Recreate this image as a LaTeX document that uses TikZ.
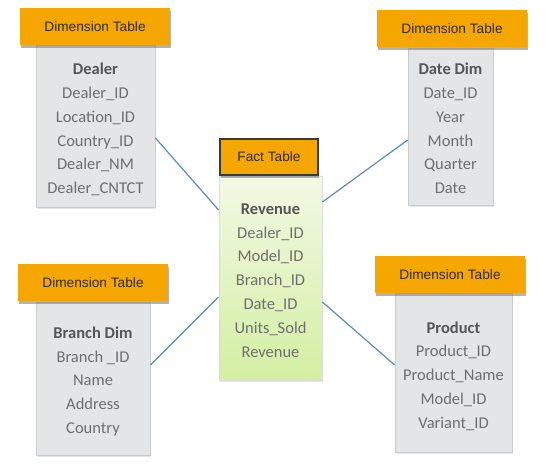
\documentclass[tikz,border=0pt]{standalone}
\usepackage{fontspec}
\setmainfont{Carlito}
\newfontfamily\hdrfont{Liberation Sans}
\usepackage{tikz}
\usetikzlibrary{shadows}
\definecolor{hdrorange}{HTML}{F5A700}
\definecolor{hdrtext}{HTML}{2E2A1E}
\definecolor{boxgray}{HTML}{E4E5E6}
\definecolor{boxedge}{HTML}{C9CBCD}
\definecolor{fieldgray}{HTML}{6E6E6E}
\definecolor{titlegray}{HTML}{555555}
\definecolor{facttop}{HTML}{F2F9E4}
\definecolor{factbot}{HTML}{D3EFA2}
\definecolor{factedge}{HTML}{363B40}
\definecolor{linkblue}{HTML}{5A8DB5}
\tikzset{hdr/.style={rectangle,fill=hdrorange,inner sep=0pt,minimum width=150pt,minimum height=37pt,
    font=\hdrfont\fontsize{13.7}{15}\selectfont,text=hdrtext,
    drop shadow={shadow xshift=1pt,shadow yshift=-3pt,opacity=0.6}}}
\tikzset{facthdr/.style={hdr,draw=factedge,line width=2.8pt,minimum width=98pt,minimum height=36pt}}
\tikzset{tbl/.style={rectangle,fill=boxgray,draw=boxedge,line width=0.8pt,inner sep=0pt,
    drop shadow={shadow xshift=1pt,shadow yshift=-2pt,opacity=0.2}}}
\tikzset{facttbl/.style={tbl,top color=facttop,bottom color=factbot,draw=boxedge!70}}
\tikzset{fields/.style={align=center,inner sep=0pt,font=\fontsize{16.5}{23.8}\selectfont,text=fieldgray}}
\tikzset{link/.style={draw=linkblue,line width=1.2pt}}
\newcommand{\tbltitle}[1]{{\bfseries\color{titlegray}#1}}

\begin{document}
\begin{tikzpicture}[x=1pt,y=-1pt]
    \useasboundingbox (0,0) rectangle (549,470);

    \node[tbl,minimum width=119pt,minimum height=162pt] (dealer) at (95.5,126) {};
    \node[tbl,minimum width=85pt,minimum height=157pt] (date) at (450.5,126.5) {};
    \node[facttbl,minimum width=103pt,minimum height=204pt] (fact) at (270.5,278) {};
    \node[tbl,minimum width=114pt,minimum height=153pt] (branch) at (93,378.5) {};
    \node[tbl,minimum width=117pt,minimum height=159pt] (product) at (453.5,372.5) {};

    \node[fields] (dealertxt) at ([yshift=-3.5pt]dealer.center)
        {\tbltitle{Dealer}\\Dealer\_ID\\Location\_ID\\Country\_ID\\Dealer\_NM\\Dealer\_CNTCT};
    \node[fields] (datetxt) at ([yshift=-2pt]date.center)
        {\tbltitle{Date Dim}\\Date\_ID\\Year\\Month\\Quarter\\Date};
    \node[fields] (facttxt) at ([yshift=-2.5pt]fact.center)
        {\tbltitle{Revenue}\\Dealer\_ID\\Model\_ID\\Branch\_ID\\Date\_ID\\Units\_Sold\\Revenue};
    \node[fields] (branchtxt) at ([yshift=-3pt]branch.center)
        {\tbltitle{Branch Dim}\\Branch \_ID\\Name\\Address\\Country};
    \node[fields] (producttxt) at ([yshift=-3.5pt]product.center)
        {\tbltitle{Product}\\Product\_ID\\Product\_Name\\Model\_ID\\Variant\_ID};

    \node[hdr] (dealerhdr) at (95,26.5) {Dimension Table};
    \node[hdr] (datehdr) at (452,29) {Dimension Table};
    \node[facthdr] (facthdr) at (269,157) {Fact Table};
    \node[hdr] (branchhdr) at (93,283) {Dimension Table};
    \node[hdr] (producthdr) at (450,274.5) {Dimension Table};

    \draw [link] ([yshift=-12pt]dealer.east) to ([yshift=68pt]fact.west);
    \draw [link] ([yshift=-13.5pt]date.west) to ([yshift=76pt]fact.east);
    \draw [link] ([yshift=13.5pt]branch.east) to ([yshift=-19pt]fact.west);
    \draw [link] ([yshift=7.5pt]product.west) to ([yshift=-24pt]fact.east);
\end{tikzpicture}
\end{document}
